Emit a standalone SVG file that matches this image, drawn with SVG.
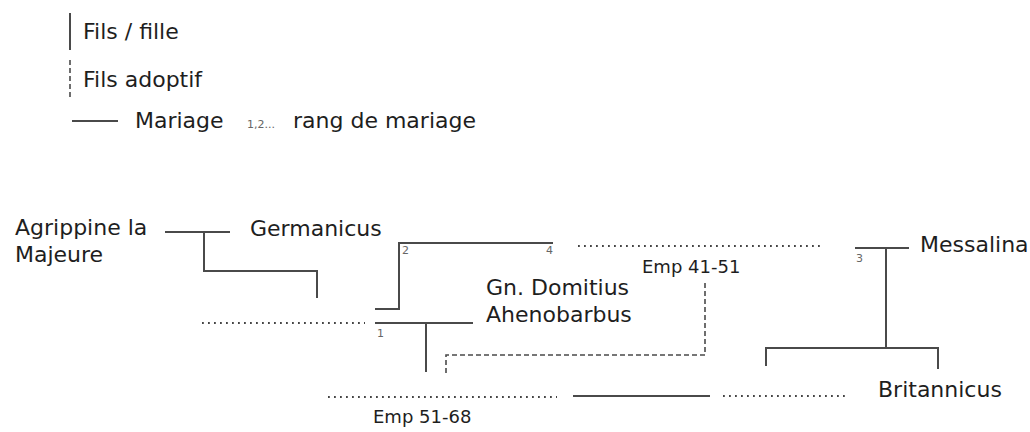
<svg xmlns="http://www.w3.org/2000/svg" width="1030" height="432" viewBox="0 0 1030 432">
<style>
.t{font-family:"DejaVu Sans",Verdana,sans-serif;font-size:22px;fill:#1e1e1e}
.s{font-family:"DejaVu Sans",Verdana,sans-serif;font-size:18px;fill:#1e1e1e}
.n{font-family:"DejaVu Sans",sans-serif;font-size:11px;fill:#666}
.l{stroke:#4a4a4a;stroke-width:2;fill:none}
.d{stroke:#4a4a4a;stroke-width:1.6;fill:none;stroke-dasharray:5 3}
.o{stroke:#444;stroke-width:1.8;fill:none;stroke-dasharray:1.8 4.2}
</style>
<rect width="1030" height="432" fill="#fff"/>
<g id="legend">
<line class="l" x1="70" y1="13" x2="70" y2="50"/>
<text class="t" x="83" y="39">Fils / fille</text>
<line class="d" x1="70" y1="60" x2="70" y2="99"/>
<text class="t" x="83" y="87">Fils adoptif</text>
<line class="l" x1="72" y1="121" x2="118" y2="121"/>
<text class="t" x="135" y="128">Mariage</text>
<text class="n" x="247" y="128">1,2...</text>
<text class="t" x="293" y="128">rang de mariage</text>
</g>
<g id="connectors">
<line class="l" x1="165" y1="232" x2="230" y2="232"/>
<polyline class="l" points="204,232 204,271 317,271 317,298"/>
<polyline class="l" points="375,309 399,309 399,243 553,243"/>
<line class="o" x1="578" y1="246" x2="820" y2="246"/>
<line class="o" x1="202" y1="323" x2="365" y2="323"/>
<line class="l" x1="375" y1="323" x2="473" y2="323"/>
<line class="l" x1="426" y1="323" x2="426" y2="372"/>
<polyline class="d" points="446,373 446,355 705,355 705,280"/>
<line class="l" x1="855" y1="248" x2="909" y2="248"/>
<line class="l" x1="886" y1="248" x2="886" y2="348"/>
<polyline class="l" points="766,366 766,348 938,348 938,369"/>
<line class="o" x1="328" y1="397" x2="557" y2="397"/>
<line class="l" x1="573" y1="396" x2="710" y2="396"/>
<line class="o" x1="723" y1="396" x2="845" y2="396"/>
</g>
<g id="marriage-ranks">
<text class="n" x="402" y="254">2</text>
<text class="n" x="546" y="254">4</text>
<text class="n" x="377" y="337">1</text>
<text class="n" x="856" y="262">3</text>
</g>
<g id="agrippine"><text class="t" x="15" y="235">Agrippine la</text><text class="t" x="15" y="262">Majeure</text></g>
<g id="germanicus"><text class="t" x="250" y="236">Germanicus</text></g>
<g id="claude"><text class="s" x="642" y="273">Emp 41-51</text></g>
<g id="domitius"><text class="t" x="486" y="295">Gn. Domitius</text><text class="t" x="486" y="322">Ahenobarbus</text></g>
<g id="messalina"><text class="t" x="920" y="252">Messalina</text></g>
<g id="neron"><text class="s" x="373" y="423">Emp 51-68</text></g>
<g id="britannicus"><text class="t" x="878" y="397">Britannicus</text></g>
</svg>
